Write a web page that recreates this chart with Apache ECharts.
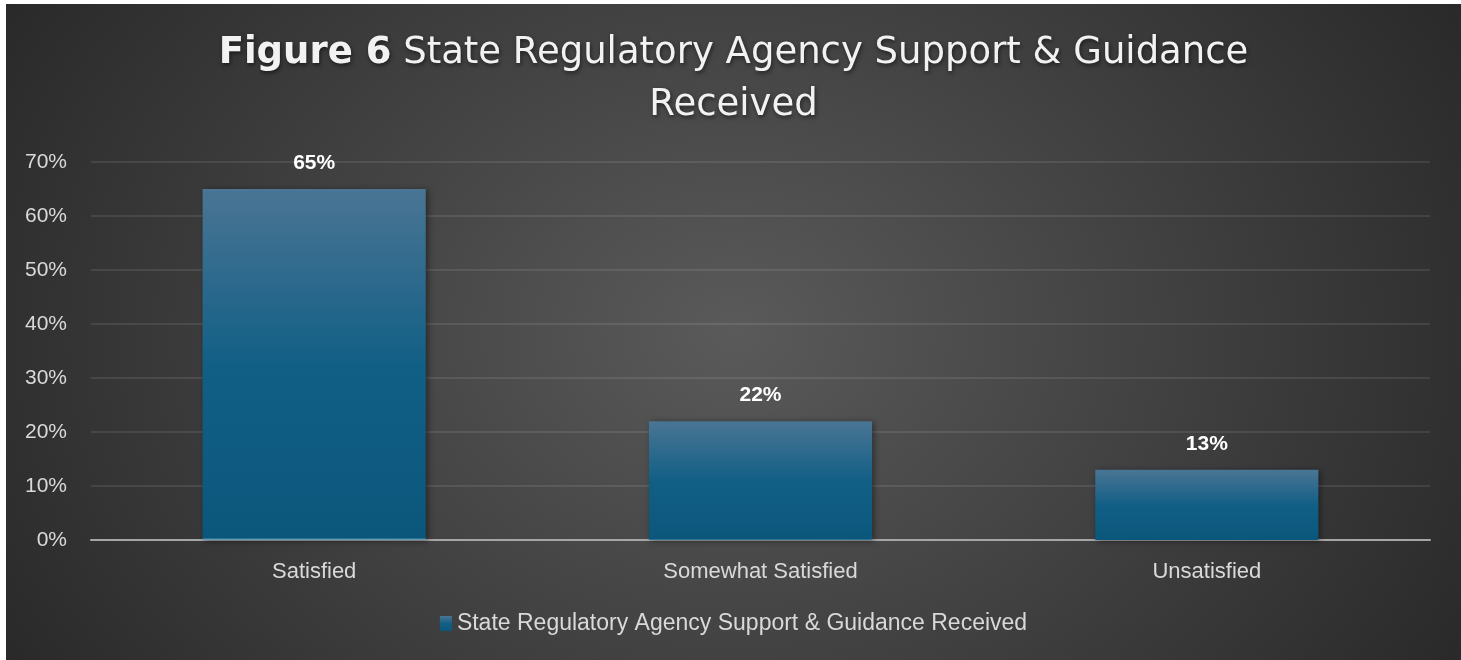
<!DOCTYPE html>
<html>
<head>
<meta charset="utf-8">
<script src="https://cdn.jsdelivr.net/npm/echarts@6/dist/echarts.min.js"></script>
<style>
  html, body { margin: 0; padding: 0; background: #ffffff; }
  #main {
    position: absolute;
    left: 6px;
    top: 4px;
    width: 1455px;
    height: 656px;
    background: radial-gradient(ellipse 900px 700px at 50% 50%, #5a5a5a 0%, #262626 100%);
  }
</style>
</head>
<body>
<div id="main"></div>
<script>
// chart data
const categories = ['Satisfied', 'Somewhat Satisfied', 'Unsatisfied'];
const values = [65, 22, 13];
const seriesName = 'State Regulatory Agency Support & Guidance Received';
const yTicks = [0, 10, 20, 30, 40, 50, 60, 70];

const labelColor = '#d9d9d9';
const labelFont = '"Liberation Sans", Arial, sans-serif';
const titleFont = '"DejaVu Sans", sans-serif';

const titleStyle = {
  fontFamily: titleFont,
  fontSize: 37,
  fontWeight: 'normal',
  color: '#f2f2f2',
  textShadowColor: 'rgba(0,0,0,0.55)',
  textShadowBlur: 4,
  textShadowOffsetX: 1,
  textShadowOffsetY: 2
};

var myChart = echarts.init(document.getElementById('main'));

let option = {
  backgroundColor: 'transparent',
  title: [
    {
      text: '{b|Figure 6} State Regulatory Agency Support & Guidance',
      left: 'center',
      top: 26,
      textStyle: Object.assign({}, titleStyle, {
        rich: {
          b: Object.assign({}, titleStyle, { fontWeight: 'bold' })
        }
      })
    },
    {
      text: 'Received',
      left: 'center',
      top: 78,
      textStyle: titleStyle
    }
  ],
  legend: {
    top: 603,
    left: 'center',
    icon: 'rect',
    itemWidth: 12,
    itemHeight: 15,
    textStyle: {
      fontFamily: labelFont,
      fontSize: 23,
      color: labelColor
    },
    data: [seriesName]
  },
  grid: {
    left: 85,
    right: 31,
    top: 158,
    bottom: 120,
    containLabel: false
  },
  xAxis: {
    type: 'category',
    data: categories,
    axisTick: { show: false },
    axisLine: { lineStyle: { color: '#a6a6a6', width: 2 } },
    axisLabel: {
      fontFamily: labelFont,
      fontSize: 22,
      color: labelColor,
      margin: 21
    }
  },
  yAxis: {
    type: 'value',
    min: yTicks[0],
    max: yTicks[yTicks.length - 1],
    interval: 10,
    axisLine: { show: false },
    axisTick: { show: false },
    axisLabel: {
      fontFamily: labelFont,
      fontSize: 21,
      color: labelColor,
      margin: 24,
      formatter: '{value}%'
    },
    splitLine: { lineStyle: { color: 'rgba(255,255,255,0.09)', width: 2 } }
  },
  series: [
    {
      name: seriesName,
      type: 'bar',
      data: values,
      barWidth: '50%',
      itemStyle: {
        color: new echarts.graphic.LinearGradient(0, 0, 0, 1, [
          { offset: 0, color: '#4a7594' },
          { offset: 0.5, color: '#125f86' },
          { offset: 0.994, color: '#0b577c' },
          { offset: 1, color: '#7fb0c8' }
        ]),
        shadowColor: 'rgba(0,0,0,0.45)',
        shadowBlur: 6,
        shadowOffsetX: 2,
        shadowOffsetY: 1
      },
      label: {
        show: true,
        position: 'top',
        distance: 15,
        fontFamily: labelFont,
        fontSize: 21,
        fontWeight: 'bold',
        color: '#ffffff',
        formatter: '{c}%'
      }
    }
  ]
};

myChart.setOption(option);
</script>
</body>
</html>
